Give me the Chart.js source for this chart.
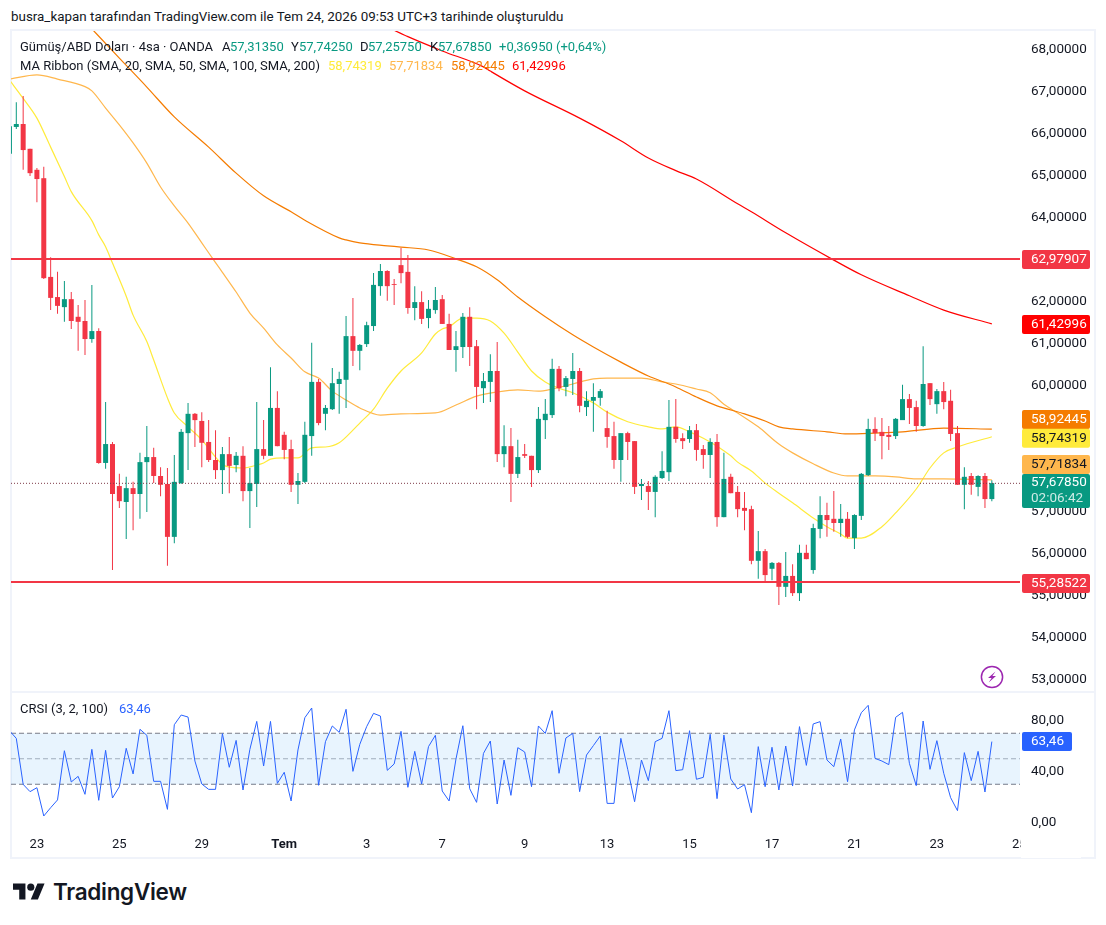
<!DOCTYPE html>
<html>
<head>
<meta charset="utf-8">
<title>Gümüş/ABD Doları</title>
<script src="https://cdn.jsdelivr.net/npm/chart.js@4/dist/chart.umd.min.js"></script>
<style>
  body { margin: 0; background: #fff; font-family: Roboto, sans-serif; color: #131722; }
  #page { position: relative; width: 1106px; height: 925px; overflow: hidden; }
  #frame { position: absolute; left: 10px; top: 29px; width: 1082px; height: 826px; border: 2px solid #f0f3fa; }
  #split { position: absolute; left: 11px; top: 691px; width: 1084px; height: 2px; background: #f0f3fa; }
  canvas { position: absolute; left: 11px; }
  #priceChart { top: 31px; }
  #crsiChart { top: 693px; }
  .t { position: absolute; font-size: 13px; line-height: 18px; white-space: nowrap; }
  .up { color: #089981; }
  #logoText { position: absolute; left: 53px; top: 878px; font: 600 22.5px/28px Inter, sans-serif; color: #131722; letter-spacing: -0.3px; }
</style>
</head>
<body>
<div id="page">
  <div id="frame"></div>
  <canvas id="priceChart" width="1083" height="660"></canvas>
  <div id="split"></div>
  <canvas id="crsiChart" width="1083" height="165"></canvas>

  <div class="t" style="left:11px;top:8px;font-size:13.4px">busra_kapan tarafından TradingView.com ile Tem 24, 2026 09:53 UTC+3 tarihinde oluşturuldu</div>

  <div class="t" style="left:20px;top:38px">Gümüş/ABD Doları · 4sa · OANDA</div>
  <div class="t" style="left:222px;top:38px">A</div><div class="t up" style="left:230px;top:38px">57,31350</div>
  <div class="t" style="left:291px;top:38px">Y</div><div class="t up" style="left:299px;top:38px">57,74250</div>
  <div class="t" style="left:360px;top:38px">D</div><div class="t up" style="left:368px;top:38px">57,25750</div>
  <div class="t" style="left:430px;top:38px">K</div><div class="t up" style="left:438px;top:38px">57,67850</div>
  <div class="t up" style="left:499px;top:38px">+0,36950 (+0,64%)</div>

  <div class="t" style="left:20px;top:57px">MA Ribbon (SMA, 20, SMA, 50, SMA, 100, SMA, 200)</div>
  <div class="t" style="left:328px;top:57px;color:#FFEB3B">58,74319</div>
  <div class="t" style="left:389px;top:57px;color:#FFB74D">57,71834</div>
  <div class="t" style="left:451px;top:57px;color:#F57C00">58,92445</div>
  <div class="t" style="left:512px;top:57px;color:#FF0000">61,42996</div>

  <div class="t" style="left:20px;top:700px">CRSI (3, 2, 100)</div>
  <div class="t" style="left:119px;top:700px;color:#2962FF">63,46</div>

  <svg style="position:absolute;left:980px;top:665px" width="24" height="24" viewBox="0 0 24 24">
    <circle cx="12" cy="12" r="10.6" fill="none" stroke="#9C27B0" stroke-width="1.5"/>
    <path d="M15.5 6.5 L8 13 h3.6 L8.7 17.5 L16 11 h-3.6 Z" fill="#9C27B0"/>
  </svg>

  <svg style="position:absolute;left:13px;top:880px" width="32" height="25" viewBox="0 0 36 28">
    <path d="M14 22H7V11H0V4h14v18zM28 22h-8l7.5-18h8L28 22z" fill="#131722"/>
    <circle cx="20" cy="8" r="4" fill="#131722"/>
  </svg>
  <div id="logoText">TradingView</div>
</div>

<script>
// candles, first one is cut by the left edge of the pane
var firstBar = -1;
var opens = [
  65.48, 66.12, 66.19, 65.60, 65.10, 64.90, 62.55, 62.07, 61.83, 62.02, 61.60, 61.50, 61.07, 61.26, 58.12, 58.57,
  57.57, 57.19, 57.52, 57.38, 58.14, 58.26, 57.81, 57.62, 56.36, 57.64, 58.83, 59.29, 59.12, 58.62, 58.19, 57.95,
  58.33, 58.07, 58.29, 57.45, 57.62, 58.45, 58.29, 59.43, 58.79, 58.45, 57.60, 57.67, 58.76, 60.05, 59.29, 59.40,
  60.00, 60.10, 61.14, 60.79, 60.95, 61.38, 62.33, 62.69, 62.38, 62.83, 62.67, 61.81, 61.95, 61.57, 61.76, 62.02,
  61.43, 60.81, 60.88, 61.60, 60.90, 59.90, 60.05, 60.31, 58.33, 58.52, 57.86, 58.33, 58.29, 57.95, 59.14, 59.26,
  60.36, 59.93, 60.12, 60.31, 59.45, 59.60, 59.67, 58.95, 58.76, 58.19, 58.83, 58.64, 57.57, 57.57, 57.43, 57.76,
  57.90, 58.98, 58.71, 58.69, 58.90, 58.45, 58.31, 58.62, 56.83, 57.79, 57.43, 57.05, 57.02, 55.79, 56.02, 55.60,
  55.74, 55.17, 55.43, 55.02, 55.98, 55.57, 56.55, 56.88, 56.79, 56.69, 56.79, 56.33, 56.86, 57.83, 58.93, 58.86,
  58.79, 58.76, 59.14, 59.64, 59.45, 59.00, 60.02, 59.52, 59.83, 59.60, 58.83, 57.60, 57.81, 57.55, 57.81, 57.26
];
var highs = [
  66.14, 66.71, 66.86, 65.60, 65.14, 65.17, 63.02, 62.67, 62.45, 62.19, 61.88, 62.00, 62.36, 61.33, 59.57, 58.62,
  57.86, 57.79, 57.67, 58.36, 59.00, 58.48, 58.02, 58.00, 58.31, 58.93, 59.55, 59.31, 59.33, 59.14, 58.90, 58.50,
  58.74, 58.38, 58.52, 58.00, 59.57, 59.14, 60.40, 59.83, 58.86, 58.67, 57.88, 59.10, 60.98, 60.12, 59.50, 60.38,
  60.29, 61.62, 62.05, 60.95, 61.48, 62.64, 62.86, 62.71, 62.50, 63.24, 63.07, 62.33, 62.21, 62.00, 62.31, 62.12,
  61.67, 61.26, 61.69, 61.83, 61.05, 60.26, 60.71, 61.00, 59.02, 58.95, 58.67, 58.57, 58.29, 59.45, 59.64, 60.60,
  60.43, 60.19, 60.74, 60.38, 59.83, 60.02, 59.88, 59.36, 59.10, 58.83, 58.86, 58.64, 57.74, 57.69, 57.83, 58.40,
  59.62, 59.64, 58.83, 59.00, 59.05, 58.55, 58.71, 58.81, 58.36, 57.86, 57.57, 57.43, 57.10, 56.50, 56.07, 55.76,
  55.76, 56.00, 55.71, 56.17, 56.17, 56.67, 57.33, 57.17, 57.45, 57.14, 56.95, 56.90, 57.88, 59.17, 59.21, 59.19,
  59.00, 59.19, 59.98, 59.76, 59.60, 60.90, 60.02, 59.88, 60.05, 59.86, 59.00, 58.02, 57.88, 57.83, 57.88, 57.71
];
var lows = [
  65.48, 66.07, 65.10, 64.95, 64.33, 62.50, 61.76, 61.67, 61.48, 61.31, 60.79, 60.69, 60.98, 58.10, 57.98, 55.57,
  57.05, 56.31, 56.52, 56.79, 56.95, 57.64, 57.33, 55.67, 56.21, 57.62, 57.95, 58.50, 58.02, 58.14, 57.74, 57.38,
  57.40, 57.90, 57.21, 56.57, 57.07, 58.21, 58.29, 58.52, 58.21, 57.43, 57.14, 57.64, 58.29, 59.02, 58.90, 59.38,
  59.29, 59.43, 60.43, 60.33, 60.88, 61.26, 62.10, 61.98, 61.88, 62.40, 61.67, 61.52, 61.43, 61.33, 61.67, 61.43,
  60.81, 60.29, 60.62, 60.43, 59.40, 59.55, 59.57, 58.14, 58.02, 57.19, 57.76, 58.24, 57.55, 57.88, 58.69, 59.19,
  59.83, 59.71, 59.74, 59.33, 59.24, 58.86, 59.48, 58.48, 57.98, 57.67, 58.19, 57.38, 57.24, 57.00, 56.83, 57.74,
  57.69, 58.60, 58.45, 58.60, 58.17, 57.98, 57.76, 56.60, 56.83, 57.40, 56.83, 56.52, 55.71, 55.36, 55.31, 55.33,
  54.74, 54.93, 54.95, 54.83, 55.83, 55.48, 56.33, 56.36, 56.48, 56.36, 56.33, 56.07, 56.76, 57.81, 58.64, 58.21,
  58.43, 58.69, 59.14, 59.05, 58.86, 58.98, 59.50, 59.29, 59.40, 58.64, 57.60, 57.02, 57.36, 57.33, 57.05, 57.21
];
var closes = [
  66.14, 66.19, 65.57, 65.02, 64.88, 62.52, 62.05, 61.86, 62.02, 61.50, 61.48, 61.07, 61.26, 58.12, 58.57, 57.38,
  57.21, 57.52, 57.38, 58.14, 58.26, 57.81, 57.60, 56.36, 57.67, 58.86, 59.29, 59.14, 58.60, 58.19, 57.95, 58.33,
  58.05, 58.29, 57.45, 57.64, 58.45, 58.29, 59.43, 58.52, 58.43, 57.60, 57.69, 58.79, 60.05, 59.07, 59.43, 60.02,
  60.12, 61.14, 60.79, 60.93, 61.40, 62.36, 62.69, 62.33, 62.36, 62.64, 61.81, 61.95, 61.55, 61.79, 62.00, 61.43,
  60.81, 60.90, 61.60, 60.88, 59.93, 60.07, 60.31, 58.33, 58.52, 57.86, 58.26, 58.29, 57.95, 59.17, 59.29, 60.36,
  59.90, 60.14, 60.31, 59.48, 59.60, 59.69, 59.83, 58.74, 58.19, 58.83, 58.62, 57.55, 57.62, 57.43, 57.79, 57.93,
  58.98, 58.69, 58.64, 58.90, 58.43, 58.31, 58.62, 56.83, 57.74, 57.40, 57.02, 56.98, 55.79, 56.02, 55.45, 55.74,
  55.17, 55.43, 55.02, 55.98, 55.83, 56.57, 56.88, 56.76, 56.69, 56.79, 56.36, 56.88, 57.86, 58.93, 58.83, 58.76,
  58.74, 59.17, 59.64, 59.43, 59.00, 60.00, 59.64, 59.83, 59.57, 58.81, 57.60, 57.79, 57.60, 57.81, 57.26, 57.64
];

// MA ribbon vertices: bar number + price
var ma20Bars = [-1, 1, 3, 5, 7, 8, 11, 12, 13, 14, 16, 17, 19, 20, 22, 23, 25, 27, 29, 30, 31, 33, 35, 36, 37, 39, 41, 43, 45, 47, 49, 50, 52, 54, 56, 59, 61, 62, 63, 65, 67, 69, 71, 73, 75, 77, 79, 81, 84, 86, 89, 92, 94, 96, 98, 100, 102, 104, 105, 107, 109, 111, 113, 116, 118, 120, 121, 123, 126, 128, 131, 133, 135, 137, 142];
var ma20Vals = [67.24, 66.80, 66.33, 65.64, 64.94, 64.58, 63.89, 63.55, 63.27, 62.88, 62.09, 61.64, 61.01, 60.57, 59.67, 59.31, 58.98, 58.67, 58.26, 58.09, 58.02, 58.00, 58.07, 58.12, 58.21, 58.24, 58.24, 58.48, 58.50, 58.60, 58.90, 59.07, 59.40, 59.90, 60.31, 60.74, 61.19, 61.31, 61.36, 61.57, 61.57, 61.50, 61.21, 60.76, 60.31, 60.05, 59.90, 59.79, 59.55, 59.33, 59.10, 58.98, 58.93, 58.98, 58.86, 58.71, 58.52, 58.29, 58.14, 57.93, 57.64, 57.40, 57.17, 56.81, 56.60, 56.43, 56.33, 56.33, 56.60, 56.93, 57.50, 58.00, 58.36, 58.50, 58.743];

var ma50Bars = [-1, 3, 6, 10, 11, 13, 15, 17, 19, 21, 23, 25, 27, 29, 30, 32, 34, 36, 38, 40, 42, 44, 46, 48, 50, 53, 56, 61, 64, 67, 70, 73, 76, 78, 81, 84, 86, 91, 94, 96, 99, 101, 103, 105, 108, 111, 113, 116, 119, 121, 125, 128, 131, 135, 142];
var ma50Vals = [67.26, 67.36, 67.26, 67.08, 66.98, 66.57, 66.17, 65.74, 65.26, 64.69, 64.24, 63.83, 63.36, 62.89, 62.66, 62.19, 61.69, 61.33, 60.93, 60.62, 60.29, 60.14, 59.83, 59.62, 59.43, 59.26, 59.29, 59.31, 59.50, 59.71, 59.81, 59.86, 59.83, 59.88, 60.00, 60.12, 60.14, 60.14, 60.05, 60.00, 59.88, 59.79, 59.52, 59.31, 58.98, 58.57, 58.36, 58.10, 57.88, 57.81, 57.81, 57.79, 57.74, 57.74, 57.718];

var ma100Bars = [10, 15, 19, 23, 28, 32, 36, 40, 42, 47, 48, 50, 54, 56, 60, 64, 67, 70, 73, 77, 81, 84, 88, 92, 95, 96, 99, 102, 106, 109, 111, 113, 118, 121, 125, 129, 135, 142];
var ma100Vals = [68.63, 67.76, 67.07, 66.36, 65.64, 65.02, 64.48, 64.10, 63.90, 63.48, 63.43, 63.36, 63.29, 63.26, 63.19, 62.98, 62.79, 62.48, 62.07, 61.60, 61.17, 60.88, 60.52, 60.19, 60.00, 59.93, 59.69, 59.48, 59.29, 59.12, 58.98, 58.93, 58.86, 58.81, 58.83, 58.86, 58.95, 58.924];

var ma200Bars = [54, 57, 62, 68, 69, 74, 82, 88, 92, 96, 99, 105, 107, 112, 119, 123, 130, 135, 142];
var ma200Vals = [68.50, 68.27, 67.93, 67.55, 67.45, 66.98, 66.33, 65.79, 65.38, 65.08, 64.88, 64.29, 64.10, 63.60, 62.95, 62.60, 62.10, 61.76, 61.43];

// CRSI, one value per bar
var crsiVals = [
  72.0, 66.0, 29.9, 24.2, 27.3, 5.1, 11.6, 17.7, 56.3, 31.8, 36.2, 22.1, 57.4, 17.4, 56.6, 19.2,
  28.1, 58.2, 38.1, 73.1, 68.4, 32.3, 32.3, 10.3, 76.7, 84.3, 82.7, 48.2, 30.2, 26.0, 26.0, 69.7,
  43.3, 64.4, 25.5, 57.4, 79.3, 44.3, 79.3, 30.7, 39.4, 16.9, 56.9, 82.2, 89.8, 29.2, 63.4, 75.7,
  70.7, 88.8, 40.1, 61.3, 75.2, 85.6, 83.5, 40.9, 45.9, 71.5, 27.6, 55.8, 30.2, 59.5, 68.4, 24.7,
  16.9, 49.8, 75.9, 26.5, 15.8, 54.2, 63.9, 14.5, 49.0, 21.3, 58.7, 55.3, 28.1, 75.7, 69.9, 87.7,
  38.6, 66.3, 69.9, 24.2, 52.9, 60.3, 67.8, 15.0, 15.0, 66.0, 41.7, 16.3, 49.0, 32.8, 63.4, 66.0,
  87.7, 40.7, 41.4, 72.0, 33.9, 35.4, 69.2, 18.7, 68.6, 34.1, 26.3, 29.7, 7.7, 59.5, 28.1, 59.0,
  25.5, 60.0, 28.6, 75.2, 44.8, 77.3, 79.1, 49.0, 43.8, 65.5, 32.0, 72.6, 86.1, 91.9, 50.3, 48.2,
  45.4, 82.5, 86.4, 46.4, 28.9, 79.6, 41.7, 64.2, 38.6, 19.5, 9.3, 54.8, 32.8, 55.8, 23.9, 63.46
];

var levelHigh = 62.97907;
var levelLow = 55.28522;
// dotted line as it sits in the picture, the printed last price is in the badge
var lastPrice = 57.635;
var bandTop = 70;
var bandMid = 50;
var bandBottom = 30;

// axis labels
var priceTicks = [53, 54, 55, 56, 57, 58, 59, 60, 61, 62, 63, 64, 65, 66, 67, 68];
var crsiTicks = [0, 40, 80];
var timeTickBars = [3, 15, 27, 39, 51, 62, 74, 86, 98, 110, 122, 134, 146];
var timeTickText = ["23", "25", "29", "Tem", "3", "7", "9", "13", "15", "17", "21", "23", "25"];

// visible ranges of the panes
var barMin = -0.771, barMax = 146.1;
var priceMin = 52.69, priceMax = 68.405;
var crsiMin = -7.45, crsiMax = 101.57;

var GREEN = "#089981", RED = "#F23645";

Chart.defaults.font.family = "Roboto, sans-serif";
Chart.defaults.font.size = 13;
Chart.defaults.color = "#131722";
Chart.defaults.animation = false;

function toPoints(bars, vals) {
  var out = [];
  for (var i = 0; i < bars.length; i++) {
    out.push({ x: bars[i], y: vals[i] });
  }
  return out;
}

function hLine(value, color, width, dash, order) {
  return {
    type: "line",
    data: [{ x: barMin, y: value }, { x: barMax, y: value }],
    borderColor: color,
    borderWidth: width,
    borderDash: dash,
    pointRadius: 0,
    order: order
  };
}

function maLine(bars, vals, color) {
  return {
    type: "line",
    data: toPoints(bars, vals),
    borderColor: color,
    borderWidth: 1.2,
    pointRadius: 0,
    cubicInterpolationMode: "monotone",
    order: 30
  };
}

var wicks = [], bodies = [], colors = [];
for (var n = 0; n < opens.length; n++) {
  var bar = firstBar + n;
  wicks.push({ x: bar, y: [lows[n], highs[n]] });
  bodies.push({ x: bar, y: [opens[n], closes[n]] });
  colors.push(closes[n] >= opens[n] ? GREEN : RED);
}

// tick labels must not push the plot inwards
function fixYAxis(axis) {
  axis.width = 74;
  axis.paddingTop = 0;
  axis.paddingBottom = 0;
}
function fixXAxis(axis) {
  axis.height = 26;
  axis.paddingLeft = 0;
  axis.paddingRight = 0;
}

function formatNum(v, digits) {
  return v.toFixed(digits).replace(".", ",");
}

// price badges on the right axis, dy moves a badge off its neighbour
var priceBadges = [
  { value: levelHigh, text: "62,97907", bg: RED, fg: "#fff", dy: 0.6 },
  { value: 61.42996, text: "61,42996", bg: "#FF0000", fg: "#fff", dy: 0.5 },
  { value: 58.92445, text: "58,92445", bg: "#F57C00", fg: "#fff", dy: -9.7 },
  { value: 58.74319, text: "58,74319", bg: "#FFEB3B", fg: "#131722", dy: 1.4 },
  { value: 57.71834, text: "57,71834", bg: "#FFB74D", fg: "#131722", dy: -15.3 },
  { value: lastPrice, text: "57,67850", sub: "02:06:42", bg: GREEN, fg: "#fff", dy: 7.8 },
  { value: levelLow, text: "55,28522", bg: RED, fg: "#fff", dy: 1.4 }
];
var crsiBadges = [
  { value: 63.46, text: "63,46", bg: "#2962FF", fg: "#fff", dy: 0, w: 50 }
];

function drawBadges(chart, badges, axisId) {
  var ctx = chart.ctx, axis = chart.scales[axisId], left = chart.chartArea.right + 2;
  ctx.save();
  ctx.font = "13.5px Roboto, sans-serif";
  ctx.textBaseline = "middle";
  ctx.textAlign = "left";
  badges.forEach(function(b) {
    var h = b.sub ? 34 : 19;
    var cy = axis.getPixelForValue(b.value) + b.dy;
    ctx.fillStyle = b.bg;
    ctx.beginPath();
    ctx.roundRect(left, cy - h / 2, b.w || 68, h, 2);
    ctx.fill();
    ctx.fillStyle = b.fg;
    if (b.sub) {
      ctx.fillText(b.text, left + 9, cy - 8);
      ctx.globalAlpha = 0.8;
      ctx.fillText(b.sub, left + 9, cy + 8);
      ctx.globalAlpha = 1;
    } else {
      ctx.fillText(b.text, left + 9, cy + 0.5);
    }
  });
  ctx.restore();
}

new Chart(document.getElementById("priceChart"), {
  type: "bar",
  data: {
    datasets: [
      maLine(ma200Bars, ma200Vals, "#FF0000"),
      maLine(ma100Bars, ma100Vals, "#F57C00"),
      maLine(ma50Bars, ma50Vals, "#FFB74D"),
      maLine(ma20Bars, ma20Vals, "#FFEB3B"),
      { type: "bar", data: wicks, backgroundColor: colors, barThickness: 1, grouped: false, inflateAmount: 0, order: 20 },
      { type: "bar", data: bodies, backgroundColor: colors, barThickness: 5, grouped: false, inflateAmount: 0, order: 10 },
      hLine(levelHigh, RED, 2, [], 5),
      hLine(levelLow, RED, 2, [], 5),
      hLine(lastPrice, "#7d3a48", 1, [1, 2], 1)
    ]
  },
  options: {
    responsive: false,
    layout: { padding: 0, autoPadding: false },
    plugins: { legend: { display: false }, tooltip: { enabled: false } },
    scales: {
      x: { type: "linear", display: false, offset: false, min: barMin, max: barMax },
      y: {
        position: "right",
        min: priceMin,
        max: priceMax,
        grid: { display: false },
        border: { display: false },
        // labels sit a little under their price in the reference
        afterBuildTicks: function(axis) {
          axis.ticks = priceTicks.map(function(v) { return { value: v - 0.045 }; });
        },
        afterFit: fixYAxis,
        ticks: {
          padding: 3,
          autoSkip: false,
          font: { size: 13.5 },
          callback: function(v) { return formatNum(Math.round(v), 5); }
        }
      }
    }
  },
  plugins: [{
    id: "badges",
    afterDraw: function(chart) { drawBadges(chart, priceBadges, "y"); }
  }]
});

var bandStyle = "#787B86";
var crsiBars = [];
for (var k = 0; k < crsiVals.length; k++) {
  crsiBars.push(firstBar + k);
}
var bandTopLine = hLine(bandTop, bandStyle, 1, [5, 3], 20);
bandTopLine.fill = "+1";
bandTopLine.backgroundColor = "rgba(33,150,243,0.1)";

new Chart(document.getElementById("crsiChart"), {
  type: "line",
  data: {
    datasets: [
      bandTopLine,
      hLine(bandBottom, bandStyle, 1, [5, 3], 20),
      hLine(bandMid, "rgba(120,123,134,0.6)", 1, [5, 3], 20),
      {
        data: toPoints(crsiBars, crsiVals),
        borderColor: "#2962FF",
        borderWidth: 1,
        pointRadius: 0,
        order: 1
      }
    ]
  },
  options: {
    responsive: false,
    layout: { padding: 0, autoPadding: false },
    plugins: { legend: { display: false }, tooltip: { enabled: false } },
    scales: {
      x: {
        type: "linear",
        min: barMin,
        max: barMax,
        grid: { display: false, drawTicks: false },
        border: { display: false },
        afterBuildTicks: function(axis) {
          axis.ticks = timeTickBars.map(function(v) { return { value: v }; });
        },
        afterFit: fixXAxis,
        ticks: {
          padding: 5,
          autoSkip: false,
          maxRotation: 0,
          font: function(ctx) {
            return ctx.tick && ctx.tick.value === 39 ? { weight: "bold", size: 13 } : { size: 13 };
          },
          callback: function(v) {
            var at = timeTickBars.indexOf(v);
            return at < 0 ? "" : timeTickText[at];
          }
        }
      },
      y: {
        position: "right",
        min: crsiMin,
        max: crsiMax,
        grid: { display: false },
        border: { display: false },
        afterBuildTicks: function(axis) {
          axis.ticks = crsiTicks.map(function(v) { return { value: v }; });
        },
        afterFit: fixYAxis,
        ticks: {
          padding: 3,
          autoSkip: false,
          font: { size: 13.5 },
          callback: function(v) { return formatNum(v, 2); }
        }
      }
    }
  },
  plugins: [{
    id: "badges",
    afterDraw: function(chart) {
      // the last time label is cut where the price axis starts
      chart.ctx.fillStyle = "#fff";
      chart.ctx.fillRect(chart.chartArea.right + 1, chart.chartArea.bottom + 1, 60, 25);
      drawBadges(chart, crsiBadges, "y");
    }
  }]
});
</script>
</body>
</html>
